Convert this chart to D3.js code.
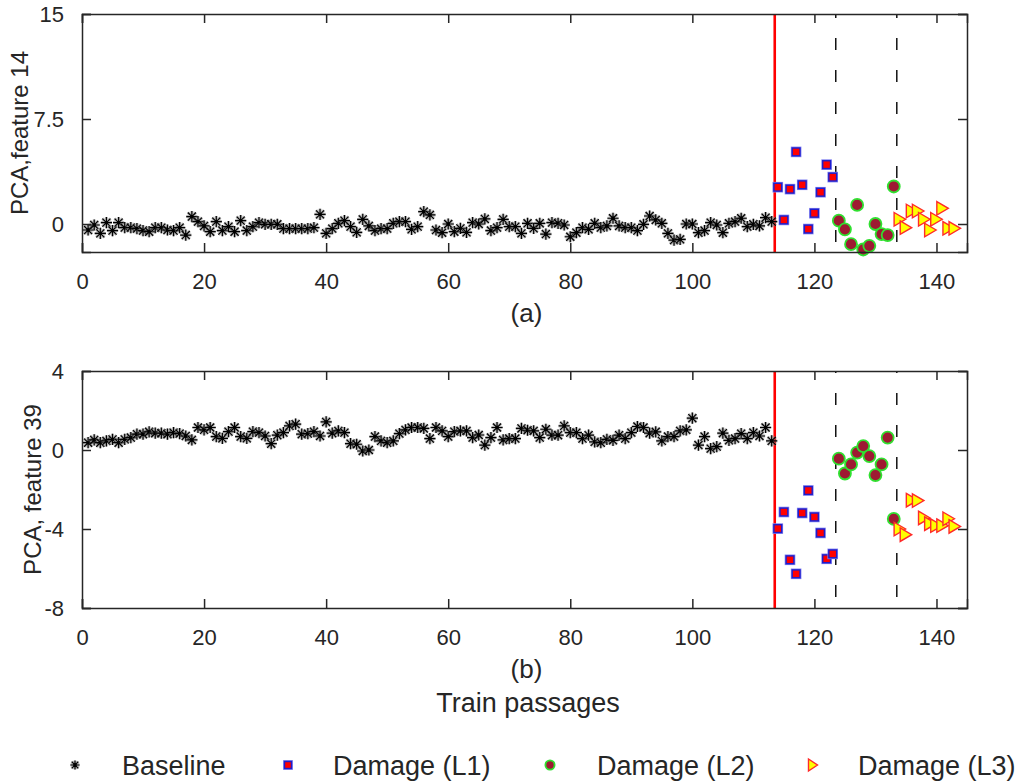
<!DOCTYPE html>
<html>
<head>
<meta charset="utf-8">
<script src="https://cdn.jsdelivr.net/npm/d3@7"></script>
<style>
  body { margin: 0; background: #fff; }
  text { font-family: "Liberation Sans", Arial, sans-serif; fill: #262626; }
</style>
</head>
<body>
<div id="chart-area"></div>
<script>
// ---- data ----
const xTicks = [0, 20, 40, 60, 80, 100, 120, 140];
const ticksA = [0, 7.5, 15];
const ticksB = [-8, -4, 0, 4];
const boundaries = [113.5, 123.5, 133.5]; // first one is the red line

// panel (a) PCA feature 14
const baseA = [-0.43, -0.07, -0.67, 0.10, -0.47, 0.10, -0.26, -0.26, -0.33, -0.47,
  -0.55, -0.26, -0.26, -0.43, -0.47, -0.26, -0.79, 0.53, 0.17, -0.14,
  -0.55, 0.17, -0.47, -0.19, -0.55, 0.24, -0.47, -0.19, 0.10, -0.02,
  -0.02, -0.02, -0.33, -0.33, -0.33, -0.33, -0.33, -0.26, 0.69, -0.67,
  -0.33, 0.05, 0.24, -0.19, -0.60, 0.33, -0.14, -0.47, -0.33, -0.33,
  0.05, 0.17, 0.17, -0.38, -0.19, 0.88, 0.65, -0.43, -0.62, 0.00,
  -0.55, -0.31, -0.60, 0.10, 0.00, 0.36, -0.47, -0.26, 0.33, -0.19,
  -0.19, -0.67, 0.05, -0.31, 0.05, -0.72, 0.10, 0.05, -0.07, -0.91,
  -0.62, -0.26, -0.38, 0.05, -0.26, -0.14, 0.41, -0.14, -0.26, -0.26,
  -0.47, -0.02, 0.57, 0.29, 0.05, -0.67, -1.15, -1.10, 0.00, 0.00,
  -0.62, -0.47, 0.10, -0.07, -0.62, 0.05, 0.17, 0.41, -0.19, -0.02,
  -0.14, 0.45, 0.17];
const l1A = [2.63, 0.29, 2.49, 5.15, 2.80, -0.36, 0.77, 2.27, 4.24, 3.35];
const l2A = [0.24, -0.38, -1.44, 1.36, -1.82, -1.56, 0.00, -0.72, -0.79, 2.68];
const l3A = [0.34, -0.26, 0.93, 0.93, 0.34, -0.43, 0.34, 1.12, -0.31, -0.31];

// panel (b) PCA feature 39
const baseB = [0.37, 0.51, 0.37, 0.46, 0.54, 0.37, 0.54, 0.63, 0.80, 0.80,
  0.92, 0.85, 0.85, 0.80, 0.88, 0.83, 0.71, 0.51, 1.14, 1.02,
  1.14, 0.68, 0.59, 0.93, 1.14, 0.68, 0.59, 0.93, 0.88, 0.71,
  0.32, 0.75, 0.88, 1.22, 1.31, 0.80, 0.83, 0.93, 0.71, 1.42,
  0.85, 0.97, 0.88, 0.32, 0.29, -0.05, 0.00, 0.68, 0.46, 0.37,
  0.46, 0.83, 1.02, 1.14, 1.14, 1.09, 0.58, 1.14, 0.97, 0.68,
  0.93, 0.97, 0.97, 0.63, 0.76, 0.25, 0.63, 1.14, 0.51, 0.58,
  0.58, 1.09, 1.00, 0.97, 0.63, 1.05, 0.75, 0.75, 1.22, 0.88,
  0.88, 0.58, 0.75, 0.41, 0.37, 0.54, 0.49, 0.75, 0.58, 0.88,
  1.19, 1.14, 0.85, 0.92, 0.46, 0.68, 0.68, 0.97, 1.02, 1.61,
  0.25, 0.68, 0.07, 0.17, 0.85, 0.49, 0.58, 0.83, 0.58, 0.88,
  0.71, 1.14, 0.46];
const l1B = [-3.98, -3.14, -5.56, -6.27, -3.19, -2.05, -3.39, -4.20, -5.51, -5.26];
const l2B = [-0.44, -1.19, -0.73, -0.13, 0.20, -0.31, -1.27, -0.73, 0.63, -3.49];
const l3B = [-4.00, -4.29, -2.54, -2.56, -3.44, -3.73, -3.83, -3.83, -3.48, -3.87];

const legendLabels = ["Baseline", "Damage (L1)", "Damage (L2)", "Damage (L3)"];

// ---- layout ----
const W = 1021, H = 782;
const left = 82, right = 967;
const axisColor = "#262626";

const svg = d3.select("#chart-area")
  .append("svg")
  .attr("width", W)
  .attr("height", H);

const x = d3.scaleLinear().domain([0, 145]).range([left, right]);

// marker shapes
const star = (r) => {
  const a = r * 0.72;
  return `M${-r},0H${r}M0,${-r}V${r}M${-a},${-a}L${a},${a}M${-a},${a}L${a},${-a}`;
};
const tri = (w, h) => `M${-w / 2},${-h / 2}L${w / 2},0L${-w / 2},${h / 2}Z`;

function drawStar(g, cx, cy, r) {
  g.append("path").attr("d", star(r)).attr("transform", `translate(${cx},${cy})`)
    .attr("fill", "none").attr("stroke", "#7a7a7a").attr("stroke-width", 3).attr("opacity", 0.55);
  g.append("path").attr("d", star(r)).attr("transform", `translate(${cx},${cy})`)
    .attr("fill", "none").attr("stroke", "#000").attr("stroke-width", 1.2);
  g.append("circle").attr("cx", cx).attr("cy", cy).attr("r", 1.7).attr("fill", "#000");
}
function drawSquare(g, cx, cy, s) {
  g.append("rect").attr("x", cx - s / 2).attr("y", cy - s / 2).attr("width", s).attr("height", s)
    .attr("fill", "#ff0000").attr("stroke", "#8080f0").attr("stroke-width", 2.8);
  g.append("rect").attr("x", cx - s / 2).attr("y", cy - s / 2).attr("width", s).attr("height", s)
    .attr("fill", "#ff0000").attr("stroke", "#1e1ecc").attr("stroke-width", 1.4);
}
function drawCircle(g, cx, cy, r) {
  g.append("circle").attr("cx", cx).attr("cy", cy).attr("r", r)
    .attr("fill", "#9e1a32").attr("stroke", "#30e030").attr("stroke-width", 1.8);
}
function drawTri(g, cx, cy, w, h) {
  g.append("path").attr("d", tri(w, h)).attr("transform", `translate(${cx},${cy})`)
    .attr("fill", "#ffff00").attr("stroke", "#ff2a2a").attr("stroke-width", 1.4)
    .attr("stroke-linejoin", "miter");
}

function drawPanel(cfg) {
  const y = d3.scaleLinear().domain(cfg.yDomain).range([cfg.bottom, cfg.top]);
  const g = svg.append("g");

  // separators
  g.append("line")
    .attr("x1", x(boundaries[0])).attr("x2", x(boundaries[0]))
    .attr("y1", cfg.top).attr("y2", cfg.bottom)
    .attr("stroke", "#ff0000").attr("stroke-width", 2.6);
  boundaries.slice(1).forEach(b => {
    g.append("line")
      .attr("x1", x(b)).attr("x2", x(b))
      .attr("y1", cfg.top).attr("y2", cfg.bottom)
      .attr("stroke", "#000").attr("stroke-width", 1.4)
      .style("stroke-dasharray", "12,20")
      .style("stroke-dashoffset", cfg.dashOffset);
  });

  // data
  const marks = g.append("g");
  cfg.base.forEach((v, i) => drawStar(marks, x(i + 1), y(v), 5.6));
  const n0 = cfg.base.length + 1;
  cfg.l1.forEach((v, i) => drawSquare(marks, x(n0 + i), y(v), 7.8));
  cfg.l2.forEach((v, i) => drawCircle(marks, x(n0 + 10 + i), y(v), 6));
  cfg.l3.forEach((v, i) => drawTri(marks, x(n0 + 20 + i), y(v), 11.5, 13.5));

  // axes (MATLAB style box with inward ticks)
  const tl = 9;
  const fmt = d => String(d);
  const xb = d3.axisBottom(x).tickValues(xTicks).tickSize(-tl).tickPadding(tl + 12).tickFormat(fmt);
  const xt = d3.axisTop(x).tickValues(xTicks).tickSize(-tl).tickFormat("");
  const yl = d3.axisLeft(y).tickValues(cfg.yTicks).tickSize(-tl).tickPadding(tl + 9).tickFormat(fmt);
  const yr = d3.axisRight(y).tickValues(cfg.yTicks).tickSize(-tl).tickFormat("");

  const axes = [
    g.append("g").attr("transform", `translate(0,${cfg.bottom})`).call(xb),
    g.append("g").attr("transform", `translate(0,${cfg.top})`).call(xt),
    g.append("g").attr("transform", `translate(${left},0)`).call(yl),
    g.append("g").attr("transform", `translate(${right},0)`).call(yr)
  ];
  axes.forEach(a => {
    a.select(".domain").attr("stroke", axisColor).attr("stroke-width", 1.5);
    a.selectAll(".tick line").attr("stroke", axisColor).attr("stroke-width", 1.5);
    a.selectAll("text").style("font-size", "22px").attr("fill", axisColor)
      .style("font-family", "'Liberation Sans', Arial, sans-serif");
  });

  // labels
  g.append("text")
    .attr("transform", `translate(${cfg.yLabelX},${(cfg.top + cfg.bottom) / 2}) rotate(-90)`)
    .attr("text-anchor", "middle")
    .style("font-size", "24px")
    .text(cfg.yLabel);
  g.append("text")
    .attr("x", (left + right) / 2 + 2).attr("y", cfg.bottom + 70)
    .attr("text-anchor", "middle")
    .style("font-size", "26px")
    .text(cfg.tag);
  return y;
}

drawPanel({
  top: 14, bottom: 252, yDomain: [-2, 15], yTicks: ticksA,
  base: baseA, l1: l1A, l2: l2A, l3: l3A,
  yLabel: "PCA,feature 14", yLabelX: 28, tag: "(a)", dashOffset: 8
});
drawPanel({
  top: 371, bottom: 608, yDomain: [-8, 4], yTicks: ticksB,
  base: baseB, l1: l1B, l2: l2B, l3: l3B,
  yLabel: "PCA, feature 39", yLabelX: 41, tag: "(b)", dashOffset: 10
});

svg.append("text")
  .attr("x", 528).attr("y", 712)
  .attr("text-anchor", "middle")
  .style("font-size", "27px")
  .text("Train passages");

// legend
const legY = 765;
const legSym = [75, 288, 550, 813];
const legTxt = [122, 333, 597, 858];
const lg = svg.append("g");
drawStar(lg, legSym[0], legY, 4.6);
drawSquare(lg, legSym[1], legY, 7);
drawCircle(lg, legSym[2], legY, 4.6);
drawTri(lg, legSym[3], legY, 9, 12);
legendLabels.forEach((t, i) => {
  lg.append("text")
    .attr("x", legTxt[i]).attr("y", legY + 10)
    .style("font-size", "27px")
    .text(t);
});
</script>
</body>
</html>
